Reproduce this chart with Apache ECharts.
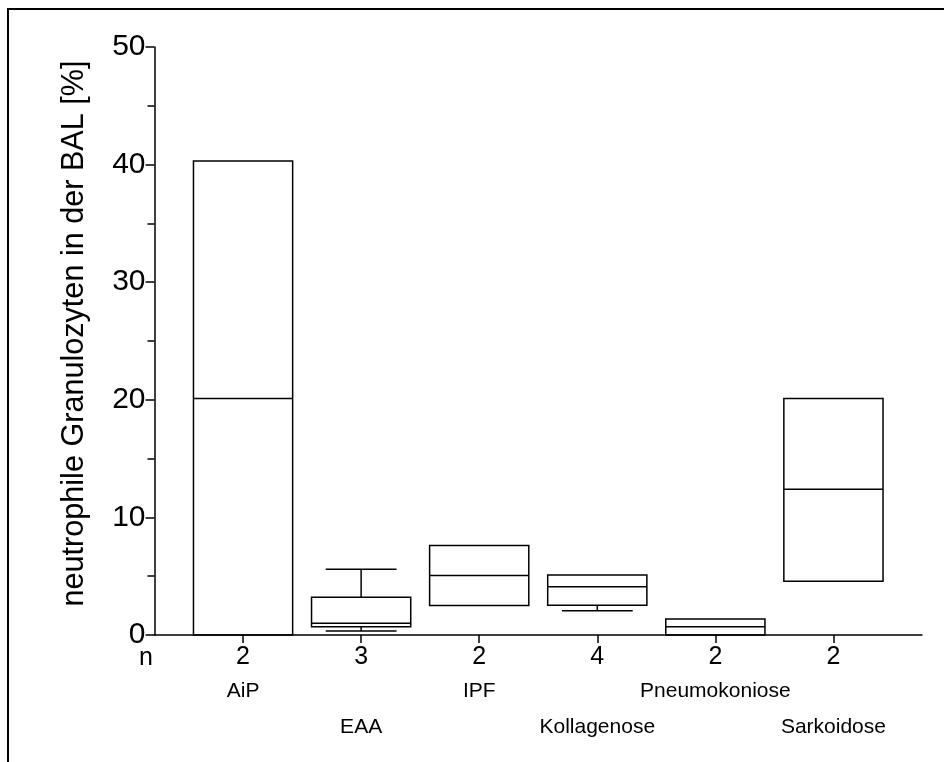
<!DOCTYPE html>
<html>
<head>
<meta charset="utf-8">
<script src="https://cdn.jsdelivr.net/npm/echarts@6/dist/echarts.min.js"></script>
<style>
html,body{margin:0;padding:0;background:#fff;}
#chart{width:944px;height:762px;}
</style>
</head>
<body>
<div id="chart"></div>
<script>
const categories = ['AiP', 'EAA', 'IPF', 'Kollagenose', 'Pneumokoniose', 'Sarkoidose'];
const counts = [2, 3, 2, 4, 2, 2];
const mins    = [0,    0.35, 2.5,  2.07, 0,    4.57];
const q1s     = [0,    0.7,  2.5,  2.52, 0,    4.57];
const medians = [20.1, 1.0,  5.05, 4.1,  0.7,  12.4];
const q3s     = [40.3, 3.2,  7.6,  5.1,  1.36, 20.1];
const maxs    = [40.3, 5.6,  7.6,  5.1,  1.36, 20.1];
const yTickValues = [0, 10, 20, 30, 40, 50];
const yTitle = 'neutrophile Granulozyten in der BAL [%]';

const positions = categories.map((c, k) => k + 1);
const oddPos = positions.filter((p, k) => k % 2 === 0);
const evenPos = positions.filter((p, k) => k % 2 === 1);
const FONT = '"Liberation Sans", Arial, sans-serif';

const chart = echarts.init(document.getElementById('chart'), null, {renderer: 'canvas'});

const boxData = categories.map((c, k) => [positions[k], mins[k], q1s[k], medians[k], q3s[k], maxs[k]]);

function renderBox(params, api) {
  const x = api.value(0);
  const mn = api.value(1), q1 = api.value(2), md = api.value(3), q3 = api.value(4), mx = api.value(5);
  const xc = api.coord([x, 0])[0];
  const w = api.size([0.84, 0])[0];
  const cw = api.size([0.6, 0])[0];
  const Y = v => api.coord([x, v])[1];
  const st = {stroke: '#000', lineWidth: 1.5, fill: null};
  const ch = [];
  ch.push({type: 'rect', shape: {x: xc - w / 2, y: Y(q3), width: w, height: Y(q1) - Y(q3)}, style: Object.assign({}, st)});
  ch.push({type: 'line', shape: {x1: xc - w / 2, y1: Y(md), x2: xc + w / 2, y2: Y(md)}, style: Object.assign({}, st)});
  if (mx > q3) {
    ch.push({type: 'line', shape: {x1: xc, y1: Y(q3), x2: xc, y2: Y(mx)}, style: Object.assign({}, st)});
    ch.push({type: 'line', shape: {x1: xc - cw / 2, y1: Y(mx), x2: xc + cw / 2, y2: Y(mx)}, style: Object.assign({}, st)});
  }
  if (mn < q1) {
    ch.push({type: 'line', shape: {x1: xc, y1: Y(q1), x2: xc, y2: Y(mn)}, style: Object.assign({}, st)});
    ch.push({type: 'line', shape: {x1: xc - cw / 2, y1: Y(mn), x2: xc + cw / 2, y2: Y(mn)}, style: Object.assign({}, st)});
  }
  return {type: 'group', children: ch};
}

const baseX = {
  type: 'value', min: 0.25, max: 6.75, position: 'bottom', offset: 0,
  splitLine: {show: false}
};

const option = {
  backgroundColor: '#fff',
  animation: false,
  grid: {left: 154.5, right: 22, top: 47, bottom: 127, containLabel: false, outerBoundsMode: 'none'},
  xAxis: [
    Object.assign({}, baseX, {
      axisLine: {show: true, onZero: false, lineStyle: {color: '#000', width: 1.5}},
      axisTick: {show: true, length: 8, customValues: positions, lineStyle: {color: '#000', width: 1.5}},
      axisLabel: {show: true, customValues: positions, margin: 10, fontSize: 25, color: '#000', fontFamily: FONT,
        formatter: v => { const k = positions.indexOf(Math.round(v)); return k >= 0 ? String(counts[k]) : ''; }}
    }),
    Object.assign({}, baseX, {
      axisLine: {show: false}, axisTick: {show: false},
      axisLabel: {show: true, customValues: oddPos, margin: 46, fontSize: 21, color: '#000', fontFamily: FONT,
        formatter: v => { const k = positions.indexOf(Math.round(v)); return k >= 0 ? categories[k] : ''; }}
    }),
    Object.assign({}, baseX, {
      axisLine: {show: false}, axisTick: {show: false},
      axisLabel: {show: true, customValues: evenPos, margin: 82, fontSize: 21, color: '#000', fontFamily: FONT,
        formatter: v => { const k = positions.indexOf(Math.round(v)); return k >= 0 ? categories[k] : ''; }}
    })
  ],
  yAxis: {
    type: 'value', min: yTickValues[0], max: yTickValues[yTickValues.length - 1], interval: 10,
    name: yTitle, nameLocation: 'middle', nameRotate: 90, nameGap: 64,
    nameTextStyle: {fontSize: 30.6, color: '#000', fontFamily: FONT, padding: [0, 0, 0, 15]},
    axisLine: {show: true, lineStyle: {color: '#000', width: 1.5}},
    axisTick: {show: true, length: 9, lineStyle: {color: '#000', width: 1.5}},
    minorTick: {show: true, splitNumber: 2, length: 7, lineStyle: {color: '#000', width: 1.5}},
    axisLabel: {fontSize: 30, color: '#000', fontFamily: FONT, margin: 9},
    splitLine: {show: false}
  },
  graphic: [
    {type: 'rect', shape: {x: 8, y: 9, width: 1200, height: 1200}, style: {fill: null, stroke: '#000', lineWidth: 2}, silent: true},
    {type: 'text', x: 146, y: 658, style: {text: 'n', fontSize: 25, fill: '#000', fontFamily: FONT, align: 'center', verticalAlign: 'middle'}}
  ],
  series: [{
    type: 'custom',
    xAxisIndex: 0,
    yAxisIndex: 0,
    renderItem: renderBox,
    encode: {x: 0, y: [1, 2, 3, 4, 5]},
    clip: false,
    data: boxData
  }]
};
chart.setOption(option);
</script>
</body>
</html>
